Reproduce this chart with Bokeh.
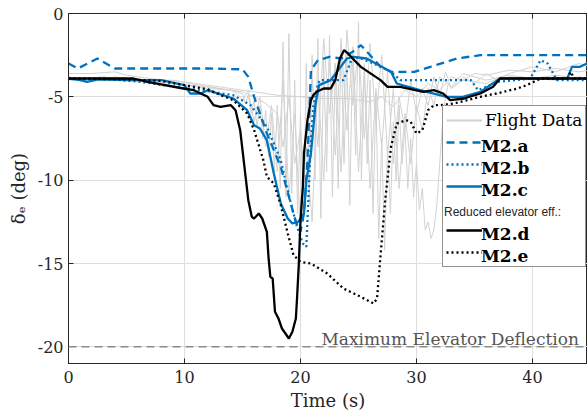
import math
from bokeh.plotting import figure
from bokeh.models import Range1d, FixedTicker, LinearAxis, Legend, LegendItem, Label, Span
from bokeh.embed import file_html
from bokeh.resources import INLINE

# ---------------- data ----------------
x_ticks = [0, 10, 20, 30, 40]
x_tick_labels = ["0", "10", "20", "30", "40"]
y_ticks = [0, -5, -10, -15, -20]
y_tick_labels = ["0", "-5", "-10", "-15", "-20"]

max_deflection = -20

# Flight data runs
fd1_t = [0, 2, 4, 5, 7, 10, 12, 14, 16, 18, 20, 22, 24, 26, 27, 28, 29, 30, 31, 32, 33, 34, 35, 36, 38, 40, 42, 44, 45]
fd1_y = [-3.6, -3.6, -3.5, -3.7, -3.9, -4.1, -4.3, -4.5, -4.7, -4.9, -5.0, -5.1, -5.1, -5.3, -5.0, -5.6, -4.6, -5.0, -4.2, -4.6, -3.8, -4.0, -3.6, -3.7, -3.4, -3.5, -3.3, -3.5, -3.4]

fd2_t = [0, 3, 6, 9, 12, 14,
         15.0, 15.25, 15.5, 15.75, 16.0, 16.25, 16.5, 16.75, 17.0, 17.25, 17.5, 17.75,
         18.0, 18.25, 18.5, 18.75, 19.0, 19.25, 19.5, 19.75, 20.0, 20.25, 20.5, 20.75,
         21.0, 21.25, 21.5, 21.75, 22.0, 22.25, 22.5, 22.75, 23.0, 23.25, 23.5, 23.75,
         24.0, 24.25, 24.5, 24.75, 25.0, 25.25, 25.5, 25.75, 26.0, 26.25, 26.5, 26.75,
         27.0, 27.25, 27.5, 27.75, 28.0, 28.25, 28.5, 28.75, 29.0, 29.25, 29.5, 29.75,
         30.0, 30.25, 30.5, 30.75, 31.0, 31.25, 31.5, 31.75, 32.0, 32.25, 32.5, 32.75, 33.0,
         34, 35, 36, 37, 38, 40, 42, 44, 45]
fd2_y = [-3.9, -4.0, -4.0, -4.2, -4.4, -4.6,
         -4.8, -5.4, -4.9, -6.0, -5.2, -6.8, -5.5, -7.5, -5.8, -8.6, -6.0, -9.5,
         -5.5, -10.5, -1.7, -11.0, -1.2, -10.8, -4.0, -12.0, -6.0, -12.5, -3.0, -11.5,
         -2.5, -10.0, -1.5, -12.3, -2.8, -9.5, -1.3, -11.0, -3.0, -10.5, -1.8, -9.0,
         -2.5, -11.5, -2.0, -8.5, -0.5, -10.0, -3.0, -9.0, -4.0, -12.0, -5.0, -13.5,
         -7.5, -14.2, -8.0, -12.0, -6.5, -10.0, -5.5, -9.0, -6.8, -10.5, -7.5, -11.0,
         -9.0, -11.8, -10.5, -13.0, -12.5, -13.5, -13.0, -11.5, -9.0, -6.5, -5.0, -4.2, -4.5,
         -3.8, -4.2, -3.6, -4.0, -3.8, -3.9, -3.7, -3.9, -3.8]

fd3_t = [0, 2, 4, 6, 8, 10, 12,
         14, 14.5, 15, 15.5, 16, 16.5, 17, 17.5, 18, 18.5, 19, 19.5, 20, 20.5,
         21, 21.5, 22, 22.5, 23, 23.5, 24, 24.5, 25, 25.5, 26, 26.5, 27, 27.5,
         28, 28.5, 29, 29.5, 30, 30.5, 31, 31.5, 32, 32.5, 33,
         34, 36, 38, 40, 42, 44, 45]
fd3_y = [-3.8, -4.1, -3.8, -4.0, -4.0, -4.3, -4.5,
         -4.6, -4.8, -5.2, -4.6, -6.5, -5.0, -8.0, -5.5, -9.5, -4.0, -11.0, -6.0, -13.0, -8.0,
         -12.5, -4.0, -10.0, -2.5, -8.5, -1.5, -7.0, -2.0, -9.5, -3.5, -10.5, -4.5, -8.0, -3.5,
         -9.0, -5.0, -7.0, -4.0, -6.0, -4.5, -5.5, -3.8, -5.0, -3.5, -4.5,
         -4.0, -4.2, -3.6, -3.2, -3.5, -3.0, -3.2]

fd4_t = [0, 3, 6, 9, 12, 15, 16, 17, 18, 18.5, 19, 19.5, 20, 20.5, 21, 21.5, 22, 22.5,
         23, 23.5, 24, 24.5, 25, 25.5, 26, 26.5, 27, 27.5, 28, 28.5, 29, 29.5, 30, 30.5,
         31, 31.5, 32, 33, 34, 36, 38, 40, 42, 44, 45]
fd4_y = [-4.0, -3.8, -4.1, -4.0, -4.4, -4.7, -5.0, -5.4, -6.0, -8.0, -5.0, -9.0, -7.0, -11.0, -4.0, -8.0, -1.5, -6.0,
         -3.0, -9.5, -1.0, -5.5, -2.0, -7.5, -1.8, -6.5, -2.5, -8.5, -4.5, -10.5, -6.0, -9.0, -5.5, -7.0,
         -4.5, -5.5, -3.8, -4.4, -3.6, -4.0, -3.7, -3.9, -4.0, -3.8, -3.9]

# M2.a (blue dashed)
m2a_t = [0, 0.8, 2.5, 4.0, 8, 12, 15.0, 15.5, 16.0, 16.5, 17.1, 17.7, 18.3, 18.8, 19.2, 19.6, 20.0, 20.3,
         20.6, 20.9, 21.5, 22.5, 23.5, 24.5, 25.2, 26.0, 26.9, 27.8, 29.8, 31.2, 33.5, 35.5, 40, 45]
m2a_y = [-3.0, -3.3, -2.7, -3.3, -3.3, -3.3, -3.35, -3.8, -5.0, -6.0, -7.2, -8.2, -9.2, -10.5, -11.5, -12.5, -13.1, -12.0,
         -8.8, -3.4, -2.8, -2.6, -2.7, -2.3, -1.9, -2.5, -3.2, -3.5, -3.5, -3.2, -2.7, -2.5, -2.5, -2.5]

# M2.b (blue dotted)
m2b_t = [0, 3, 6.2, 10.3, 11.4, 14.2, 15.7, 17.1, 18.3, 19.1, 19.7, 20.2, 20.5, 20.9, 21.1, 21.5, 21.7,
         23.7, 24.5, 25.2, 26.3, 27.8, 28.6, 34.7, 35.3, 37.0, 39.8, 40.7, 41.3, 42.1, 45]
m2b_y = [-3.9, -3.9, -4.1, -4.5, -4.6, -4.9, -5.5, -6.8, -8.8, -11.2, -12.8, -13.8, -14.0, -7.6, -5.6, -4.2, -4.0,
         -4.0, -2.6, -2.7, -3.0, -3.5, -4.0, -4.0, -4.6, -4.1, -3.9, -2.8, -3.0, -4.0, -4.0]

# M2.c (blue solid)
m2c_t = [0, 1.0, 1.6, 2.5, 5, 8, 10.0, 10.5, 11.4, 12, 14.2, 15.4, 16.0, 16.5, 17.1, 17.7, 18.3, 18.9,
         19.3, 19.8, 20.3, 20.5, 20.9, 21.3, 21.6, 22.6, 24.0, 24.6, 25.7, 27.8, 28.3, 30.3, 32.6, 34.0,
         35.5, 37.2, 43.0, 43.4, 44.1, 45]
m2c_y = [-3.9, -4.0, -4.1, -3.95, -4.0, -4.0, -4.3, -4.8, -4.8, -4.6, -5.1, -5.8, -6.7, -6.9, -7.6, -9.6, -11.4, -12.3,
         -12.6, -12.5, -12.0, -10.0, -8.4, -5.4, -4.3, -4.0, -2.7, -2.6, -2.7, -3.5, -4.2, -4.6, -5.0, -5.0,
         -4.7, -3.9, -3.9, -3.2, -3.2, -2.9]

# M2.d (black solid, reduced elevator effectiveness)
m2d_t = [0, 5.6, 6.8, 9.9, 10.8, 12.0, 12.5, 13.1, 14.0, 14.4, 14.8, 15.2, 15.5, 15.8, 16.0, 16.4, 16.7, 17.1,
         17.25, 17.4, 17.6, 17.8, 18.1, 18.4, 19.0, 19.3, 19.6, 19.7, 19.85, 20.0, 20.2, 20.3, 20.6, 20.9,
         21.1, 21.4, 22.0, 22.6, 23.0, 23.4, 23.75, 24.1, 24.5, 25.2, 26.9, 27.5, 28.6, 30.6, 31.5, 32.3,
         32.9, 34.1, 35.5, 36.6, 37.2, 45]
m2d_y = [-3.9, -3.9, -4.1, -4.5, -4.6, -5.0, -5.5, -5.6, -5.5, -5.8, -7.0, -9.4, -11.2, -12.2, -12.3, -12.0, -12.3, -13.1,
         -14.7, -15.8, -15.9, -17.9, -18.3, -18.9, -19.5, -19.1, -18.3, -17.1, -15.1, -12.4, -10.4, -8.4, -6.4, -5.2,
         -4.9, -4.7, -4.5, -4.5, -4.0, -2.7, -2.2, -2.4, -2.7, -3.2, -4.0, -4.4, -4.4, -4.7, -4.6, -4.8,
         -5.2, -5.1, -4.8, -4.4, -3.9, -3.9]

# M2.e (black dotted, reduced elevator effectiveness)
m2e_t = [0, 5, 8, 10, 12, 12.8, 14.2, 15.4, 16.0, 16.8, 17.1, 17.7, 18.3, 18.9, 19.4, 20.0, 20.9, 22.3, 23.7,
         24.3, 25.2, 26.3, 26.6, 26.9, 27.3, 27.8, 28.3, 29.1, 29.5, 30.0, 30.5, 31.0, 31.5, 32.1, 33.2, 34.4,
         35.5, 36.9, 38.7, 39.5, 40.7, 43.0, 43.3, 43.6, 45]
m2e_y = [-3.9, -3.95, -4.05, -4.3, -4.55, -4.8, -5.2, -6.0, -7.0, -8.8, -9.8, -10.2, -11.5, -13.2, -14.5, -14.9, -15.0, -15.6, -16.5,
         -16.7, -17.0, -17.4, -17.1, -14.5, -11.2, -8.0, -6.6, -6.4, -6.5, -7.2, -7.0, -5.8, -5.5, -5.5, -5.4, -5.2,
         -5.0, -4.8, -4.5, -4.3, -3.9, -3.9, -3.5, -3.9, -3.9]

# ---------------- figure ----------------
SERIF = "DejaVu Serif"
BLUE = "#0072BD"
DARK = "#262626"

p = figure(width=587, height=419, x_range=Range1d(0, 44.74), y_range=Range1d(-21, 0),
           output_backend="svg", toolbar_location=None,
           min_border_left=68, min_border_right=0, min_border_top=13, min_border_bottom=56)
p.background_fill_color = "white"
p.border_fill_color = "white"
p.outline_line_color = DARK
p.outline_line_width = 1

for ax, ticks, labels in ((p.xaxis[0], x_ticks, x_tick_labels), (p.yaxis[0], y_ticks, y_tick_labels)):
    ax.ticker = FixedTicker(ticks=ticks)
    ax.major_label_overrides = {t: l for t, l in zip(ticks, labels)}
    ax.major_tick_in = 5
    ax.major_tick_out = 0
    ax.minor_tick_line_color = None
    ax.axis_line_color = DARK
    ax.major_tick_line_color = DARK
    ax.major_label_text_font = SERIF
    ax.major_label_text_font_size = "16px"
    ax.major_label_text_color = DARK
    ax.axis_label_text_font = SERIF
    ax.axis_label_text_font_size = "18px"
    ax.axis_label_text_font_style = "normal"
    ax.axis_label_text_color = DARK

p.xaxis.axis_label = "Time (s)"
p.xaxis.major_label_standoff = 7
p.xaxis.axis_label_standoff = 4
p.yaxis.axis_label = "\u03b4\u2091 (deg)"
p.yaxis.major_label_standoff = 5
p.yaxis.axis_label_standoff = 6

# top spine ticks (inward, no labels)
top_axis = LinearAxis(ticker=FixedTicker(ticks=x_ticks), major_tick_in=5, major_tick_out=0,
                      minor_tick_line_color=None, major_label_standoff=0,
                      major_label_overrides={t: "" for t in x_ticks},
                      axis_line_color=DARK, major_tick_line_color=DARK)
p.add_layout(top_axis, "above")

p.xgrid.grid_line_color = "#dedede"
p.ygrid.grid_line_color = "#dedede"

# flight data
for tt, yy in ((fd1_t, fd1_y), (fd2_t, fd2_y), (fd3_t, fd3_y), (fd4_t, fd4_y)):
    p.line(tt, yy, line_color="#d2d2d2", line_width=1)

ra = p.line(m2a_t, m2a_y, line_color=BLUE, line_width=2.3, line_dash="8 5")
rb = p.line(m2b_t, m2b_y, line_color=BLUE, line_width=2.3, line_dash="2 3")
rc = p.line(m2c_t, m2c_y, line_color=BLUE, line_width=2.3)
rd = p.line(m2d_t, m2d_y, line_color="black", line_width=2.3)
re = p.line(m2e_t, m2e_y, line_color="black", line_width=2.3, line_dash="2 3")

p.add_layout(Span(location=max_deflection, dimension="width", line_color="#8c8c8c",
                  line_width=1.5, line_dash="8 5"))
p.add_layout(Label(x=21.8, y=-19.55, text="Maximum Elevator Deflection", text_font=SERIF,
                   text_font_size="17px", text_color="#555555", text_baseline="alphabetic"))

# invisible renderer for label-only legend rows
dummy = p.line([math.nan], [math.nan], line_alpha=0)
fd_legend_r = p.line([math.nan], [math.nan], line_color="#d4d4d4", line_width=2)

LEG_LOC = (374, 96)
leg_a = Legend(items=[
    LegendItem(label="Flight Data", renderers=[fd_legend_r]),
    LegendItem(label="", renderers=[ra]),
    LegendItem(label="", renderers=[rb]),
    LegendItem(label="", renderers=[rc]),
    LegendItem(label="", renderers=[dummy]),
    LegendItem(label="", renderers=[rd]),
    LegendItem(label="", renderers=[re]),
], location=LEG_LOC)
leg_b = Legend(items=[
    LegendItem(label="", renderers=[dummy]),
    LegendItem(label="M2.a", renderers=[dummy]),
    LegendItem(label="M2.b", renderers=[dummy]),
    LegendItem(label="M2.c", renderers=[dummy]),
    LegendItem(label="", renderers=[dummy]),
    LegendItem(label="M2.d", renderers=[dummy]),
    LegendItem(label="M2.e", renderers=[dummy]),
], location=LEG_LOC)
leg_c = Legend(items=[
    LegendItem(label="", renderers=[dummy]),
    LegendItem(label="", renderers=[dummy]),
    LegendItem(label="", renderers=[dummy]),
    LegendItem(label="", renderers=[dummy]),
    LegendItem(label="Reduced elevator eff.:", renderers=[dummy]),
    LegendItem(label="", renderers=[dummy]),
    LegendItem(label="", renderers=[dummy]),
], location=LEG_LOC)
for lg in (leg_a, leg_b, leg_c):
    lg.glyph_width = 36
    lg.glyph_height = 22
    lg.label_height = 22
    lg.label_standoff = 3
    lg.spacing = 0
    lg.padding = 3
    lg.margin = 0
    lg.label_text_font = SERIF
    lg.label_text_font_size = "17px"
    lg.label_text_color = "black"
    lg.label_text_baseline = "middle"
leg_a.border_line_color = DARK
leg_a.border_line_width = 1
leg_a.background_fill_color = "white"
leg_a.background_fill_alpha = 1
for lg in (leg_b, leg_c):
    lg.border_line_color = None
    lg.background_fill_alpha = 0
leg_b.label_text_font_style = "bold"
leg_c.glyph_width = 0
leg_c.label_standoff = 2
leg_c.label_text_font = "Liberation Sans"
leg_c.label_text_font_size = "12px"
leg_c.label_text_color = DARK
p.add_layout(leg_a)
p.add_layout(leg_b)
p.add_layout(leg_c)

open("out.html", "w").write(file_html(p, INLINE))
